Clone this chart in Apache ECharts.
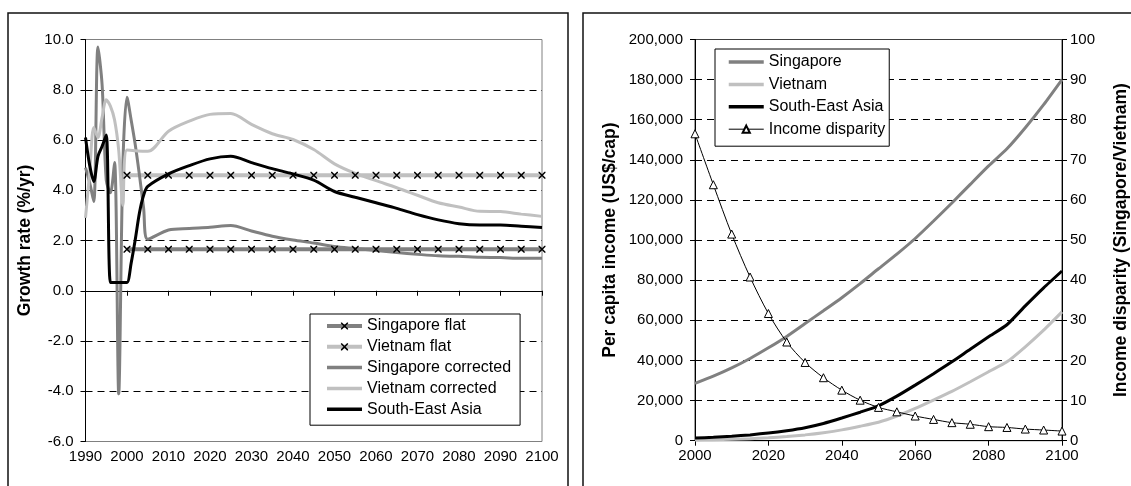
<!DOCTYPE html>
<html>
<head>
<meta charset="utf-8">
<script src="https://cdn.jsdelivr.net/npm/echarts@6/dist/echarts.min.js"></script>
<style>
  html, body { margin: 0; padding: 0; background: #fff; }
  #chart { width: 1131px; height: 486px; }
</style>
</head>
<body>
<div id="chart"></div>
<script>
// ---- Growth rates (%/yr) ----
const flatYears = [2000, 2005, 2010, 2015, 2020, 2025, 2030, 2035, 2040, 2045, 2050,
                   2055, 2060, 2065, 2070, 2075, 2080, 2085, 2090, 2095, 2100];
const singaporeFlat = [1.65, 1.65, 1.65, 1.65, 1.65, 1.65, 1.65, 1.65, 1.65, 1.65, 1.65,
                       1.65, 1.65, 1.65, 1.65, 1.65, 1.65, 1.65, 1.65, 1.65, 1.65];
const vietnamFlat = [4.6, 4.6, 4.6, 4.6, 4.6, 4.6, 4.6, 4.6, 4.6, 4.6, 4.6,
                     4.6, 4.6, 4.6, 4.6, 4.6, 4.6, 4.6, 4.6, 4.6, 4.6];

const sgpCorrYears = [1990, 1991, 1992, 1993, 1994, 1995, 1996, 1997, 1998, 1999, 2000,
                      2001, 2002, 2003, 2004, 2005, 2010, 2015, 2020, 2025, 2030, 2035,
                      2040, 2045, 2050, 2055, 2060, 2065, 2070, 2075, 2080, 2085, 2090,
                      2095, 2100];
const singaporeCorrected = [4.9, 4.3, 3.55, 9.7, 8.2, 4.4, 3.9, 5.1, -4.1, 5.0, 7.7,
                            6.8, 5.8, 4.6, 3.3, 2.05, 2.42, 2.48, 2.53, 2.6, 2.38, 2.17,
                            2.02, 1.9, 1.76, 1.68, 1.6, 1.52, 1.45, 1.39, 1.37, 1.33, 1.32,
                            1.29, 1.29];

const vnmCorrYears = [1990, 1991, 1992, 1993, 1994, 1995, 1996, 1997, 1998, 1999, 2000,
                      2005, 2010, 2015, 2020, 2025, 2030, 2035, 2040, 2045, 2050, 2055,
                      2060, 2065, 2070, 2075, 2080, 2085, 2090, 2095, 2100];
const vietnamCorrected = [2.9, 4.7, 6.5, 6.1, 6.9, 7.6, 7.35, 6.8, 5.6, 3.4, 5.6,
                          5.55, 6.35, 6.75, 7.02, 7.05, 6.62, 6.25, 6.02, 5.62, 5.05, 4.67,
                          4.38, 4.1, 3.8, 3.5, 3.33, 3.16, 3.15, 3.05, 2.96];

const seaYears = [1990, 1991, 1992, 1993, 1994, 1995, 1996, 1997, 1998, 1999, 2000,
                  2001, 2002, 2003, 2004, 2005, 2010, 2015, 2020, 2025, 2030, 2035,
                  2040, 2045, 2050, 2055, 2060, 2065, 2070, 2075, 2080, 2085, 2090,
                  2095, 2100];
const seAsiaGrowth = [6.1, 5.0, 4.35, 5.35, 5.75, 6.2, 0.33, 0.33, 0.33, 0.33, 0.33,
                      1.1, 2.05, 3.1, 3.8, 4.15, 4.65, 4.98, 5.25, 5.35, 5.1, 4.86,
                      4.65, 4.4, 3.95, 3.72, 3.5, 3.28, 3.03, 2.82, 2.67, 2.62, 2.62,
                      2.57, 2.52];

// ---- Per capita income (US$/cap) and disparity ----
const incomeYears = [2000, 2005, 2010, 2015, 2020, 2025, 2030, 2035, 2040, 2045, 2050,
                     2055, 2060, 2065, 2070, 2075, 2080, 2085, 2090, 2095, 2100];
const singaporeIncome = [28600, 32200, 36300, 41000, 46300, 52000, 58400, 64800, 71300, 78300, 85700,
                         93000, 100800, 109500, 118500, 127800, 137000, 145500, 156000, 167500, 180000];
const vietnamIncome = [400, 520, 720, 1000, 1450, 2050, 2900, 4000, 5400, 7200, 9200,
                       12300, 16100, 20300, 24600, 29400, 34400, 39300, 46800, 55100, 64200];
const seAsiaIncome = [1300, 1700, 2200, 2900, 3800, 5000, 6500, 8600, 11300, 14200, 17400,
                      22200, 27700, 33400, 39300, 45600, 51800, 57800, 67200, 76200, 84600];
const incomeDisparity = [76.5, 63.8, 51.5, 40.8, 31.7, 24.6, 19.5, 15.7, 12.6, 10.1, 8.3,
                         7.2, 6.15, 5.3, 4.5, 4.1, 3.5, 3.3, 2.9, 2.66, 2.4];

const pairs = (xs, ys) => xs.map((x, i) => [x, ys[i]]);

const FONT = 'Liberation Sans, Arial, sans-serif';
const MID_GRAY = '#808080';
const LIGHT_GRAY = '#c0c0c0';
const CROSS = 'path://M0 0L3 0L10 7L17 0L20 0L20 3L13 10L20 17L20 20L17 20L10 13L3 20L0 20L0 17L7 10L0 3Z';

const withCommas = v => String(v).replace(/\B(?=(\d{3})+(?!\d))/g, ',');

const axisLineBlack = { show: true, lineStyle: { color: '#000', width: 1 } };
const tickOut = { show: true, inside: false, length: 5, lineStyle: { color: '#000', width: 1 } };
const labelStyle = { color: '#000', fontSize: 15, fontFamily: FONT };
const nameStyle = { color: '#000', fontSize: 17.5, fontWeight: 'bold', fontFamily: FONT };
const dashed = {
  show: true, showMinLine: false, showMaxLine: false,
  lineStyle: { color: '#000', width: 1, type: [7, 5] }
};
// legend entries: line sample drawn at the given width, marker hidden for plain lines
const entry = (name, width, plain) => {
  const item = { name, lineStyle: { width } };
  if (plain) item.itemStyle = { opacity: 0 };
  return item;
};

const chart = echarts.init(document.getElementById('chart'), null, { renderer: 'canvas' });

chart.setOption({
  animation: false,
  backgroundColor: '#fff',
  graphic: [
    { type: 'rect', shape: { x: 8, y: 13, width: 560, height: 490 },
      style: { fill: 'none', stroke: '#111', lineWidth: 1.5 }, silent: true },
    { type: 'rect', shape: { x: 583, y: 13, width: 560, height: 490 },
      style: { fill: 'none', stroke: '#111', lineWidth: 1.5 }, silent: true }
  ],
  grid: [
    { left: 85.5, right: 589, top: 39.5, bottom: 44.5, show: true,
      borderColor: MID_GRAY, borderWidth: 1, backgroundColor: 'transparent' },
    { left: 695, right: 65, top: 39.5, bottom: 45.3, show: true,
      borderColor: '#404040', borderWidth: 1, backgroundColor: 'transparent' }
  ],
  legend: [
    {
      orient: 'vertical', left: 310, top: 314,
      padding: [4, 9, 8, 15],
      itemWidth: 35, itemHeight: 9, itemGap: 4.8,
      borderColor: '#000', borderWidth: 1, backgroundColor: '#fff',
      textStyle: { color: '#000', fontSize: 16, fontFamily: FONT },
      data: [entry('Singapore flat', 4), entry('Vietnam flat', 4),
             entry('Singapore corrected', 3.5, true), entry('Vietnam corrected', 3.5, true),
             entry('South-East Asia', 3.5, true)]
    },
    {
      orient: 'vertical', left: 715, top: 49,
      padding: [5, 4, 9, 12],
      itemWidth: 35, itemHeight: 9, itemGap: 6.4,
      borderColor: '#000', borderWidth: 1, backgroundColor: '#fff',
      textStyle: { color: '#000', fontSize: 16, fontFamily: FONT },
      data: [entry('Singapore', 3.5, true), entry('Vietnam', 3.5, true),
             entry('South-East Asia', 3.5, true), entry('Income disparity', 1)]
    }
  ],
  xAxis: [
    { gridIndex: 0, type: 'value', min: 1990, max: 2100, interval: 10,
      axisLine: axisLineBlack, axisTick: tickOut,
      axisLabel: Object.assign({ margin: 8, formatter: v => String(v) }, labelStyle),
      splitLine: { show: false } },
    { gridIndex: 1, type: 'value', min: 2000, max: 2100, interval: 20,
      axisLine: axisLineBlack, axisTick: tickOut,
      axisLabel: Object.assign({ margin: 8, formatter: v => String(v) }, labelStyle),
      splitLine: { show: false } }
  ],
  yAxis: [
    { gridIndex: 0, type: 'value', min: -6, max: 10, interval: 2,
      name: 'Growth rate (%/yr)', nameLocation: 'middle', nameRotate: 90, nameGap: 51,
      nameTextStyle: nameStyle,
      axisLine: axisLineBlack, axisTick: tickOut,
      axisLabel: Object.assign({ margin: 12, formatter: v => v.toFixed(1) }, labelStyle),
      splitLine: dashed },
    { gridIndex: 1, type: 'value', min: 0, max: 200000, interval: 20000,
      name: 'Per capita income (US$/cap)', nameLocation: 'middle', nameRotate: 90, nameGap: 76,
      nameTextStyle: nameStyle,
      axisLine: axisLineBlack, axisTick: tickOut,
      axisLabel: Object.assign({ margin: 12, formatter: v => withCommas(v) }, labelStyle),
      splitLine: dashed },
    { gridIndex: 1, type: 'value', position: 'right', min: 0, max: 100, interval: 10,
      name: 'Income disparity (Singapore/Vietnam)', nameLocation: 'middle', nameRotate: 90, nameGap: 50,
      nameTextStyle: nameStyle,
      axisLine: axisLineBlack, axisTick: tickOut,
      axisLabel: Object.assign({ margin: 8 }, labelStyle),
      splitLine: { show: false } }
  ],
  series: [
    // growth rates
    { name: 'Singapore flat', type: 'line', xAxisIndex: 0, yAxisIndex: 0,
      data: pairs(flatYears, singaporeFlat),
      symbol: CROSS, symbolSize: 7, showSymbol: true,
      lineStyle: { color: MID_GRAY, width: 4 }, itemStyle: { color: '#000' } },
    { name: 'Vietnam flat', type: 'line', xAxisIndex: 0, yAxisIndex: 0,
      data: pairs(flatYears, vietnamFlat),
      symbol: CROSS, symbolSize: 7, showSymbol: true,
      lineStyle: { color: LIGHT_GRAY, width: 4 }, itemStyle: { color: '#000' } },
    { name: 'Singapore corrected', type: 'line', xAxisIndex: 0, yAxisIndex: 0,
      data: pairs(sgpCorrYears, singaporeCorrected), smooth: 0.3, symbol: 'none',
      lineStyle: { color: MID_GRAY, width: 3 }, itemStyle: { color: MID_GRAY } },
    { name: 'Vietnam corrected', type: 'line', xAxisIndex: 0, yAxisIndex: 0,
      data: pairs(vnmCorrYears, vietnamCorrected), smooth: 0.3, symbol: 'none',
      lineStyle: { color: LIGHT_GRAY, width: 3 }, itemStyle: { color: LIGHT_GRAY } },
    { name: 'South-East Asia', type: 'line', xAxisIndex: 0, yAxisIndex: 0,
      data: pairs(seaYears, seAsiaGrowth), smooth: 0.3, symbol: 'none',
      lineStyle: { color: '#000', width: 3 }, itemStyle: { color: '#000' } },
    // per capita income
    { name: 'Singapore', type: 'line', xAxisIndex: 1, yAxisIndex: 1,
      data: pairs(incomeYears, singaporeIncome), smooth: 0.2, symbol: 'none',
      lineStyle: { color: MID_GRAY, width: 3 }, itemStyle: { color: MID_GRAY } },
    { name: 'Vietnam', type: 'line', xAxisIndex: 1, yAxisIndex: 1,
      data: pairs(incomeYears, vietnamIncome), smooth: 0.2, symbol: 'none',
      lineStyle: { color: LIGHT_GRAY, width: 3 }, itemStyle: { color: LIGHT_GRAY } },
    { name: 'South-East Asia', type: 'line', xAxisIndex: 1, yAxisIndex: 1,
      data: pairs(incomeYears, seAsiaIncome), smooth: 0.2, symbol: 'none',
      lineStyle: { color: '#000', width: 3 }, itemStyle: { color: '#000' } },
    { name: 'Income disparity', type: 'line', xAxisIndex: 1, yAxisIndex: 2,
      data: pairs(incomeYears, incomeDisparity), smooth: 0.3,
      symbol: 'triangle', symbolSize: 8, showSymbol: true,
      lineStyle: { color: '#000', width: 1 },
      itemStyle: { color: '#fff', borderColor: '#000', borderWidth: 1 } }
  ]
});
</script>
</body>
</html>
